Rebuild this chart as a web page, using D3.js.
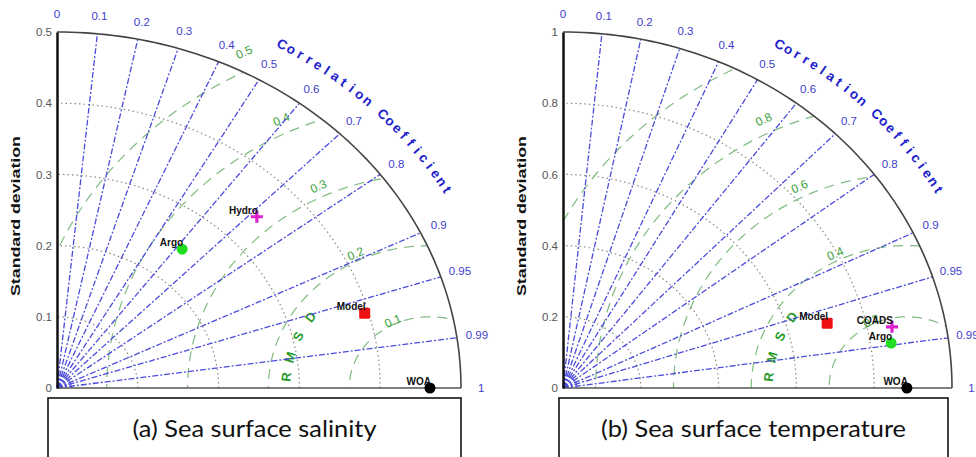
<!DOCTYPE html>
<html>
<head>
<meta charset="utf-8">
<script src="https://cdn.jsdelivr.net/npm/d3@7"></script>
<style>
  html, body { margin: 0; padding: 0; background: #fff; }
  svg { display: block; font-family: "Liberation Sans", Arial, sans-serif; }
  .caption { font-family: Lato, "Open Sans", sans-serif; font-size: 24px; fill: #111; }
</style>
</head>
<body>
<div id="chart"></div>
<script>
// correlation rays and their labels (shared by both diagrams)
const corrTicks = [0, 0.1, 0.2, 0.3, 0.4, 0.5, 0.6, 0.7, 0.8, 0.9, 0.95, 0.99, 1];

// (a) sea surface salinity
const salStdTicks = [0, 0.1, 0.2, 0.3, 0.4, 0.5];
const salRmsTicks = [0.1, 0.2, 0.3, 0.4, 0.5];
const salRmsLabels = [0.1, 0.2, 0.3, 0.4, 0.5];
const salNames = ["WOA", "Argo", "Hydro", "Model"];
const salStd = [0.4616, 0.249, 0.345, 0.395];
const salCorr = [1, 0.622, 0.717, 0.964];

// (b) sea surface temperature
const tmpStdTicks = [0, 0.2, 0.4, 0.6, 0.8, 1];
const tmpRmsTicks = [0.2, 0.4, 0.6, 0.8, 1.0];
const tmpRmsLabels = [0.2, 0.4, 0.6, 0.8];
const tmpNames = ["WOA", "Model", "COADS", "Argo"];
const tmpStd = [0.884, 0.703, 0.863, 0.853];
const tmpCorr = [1, 0.966, 0.980, 0.989];

const captions = ["(a) Sea surface salinity", "(b) Sea surface temperature"];

// marker look per source
const markerStyle = {
    WOA:   {shape: "circle", color: "#000"},
    Argo:  {shape: "circle", color: "#22dd22"},
    Hydro: {shape: "plus",   color: "#e020d0"},
    COADS: {shape: "plus",   color: "#e020d0"},
    Model: {shape: "square", color: "#ee1111"}
};

const W = 976, H = 457;
const svg = d3.select("#chart").append("svg")
    .attr("width", W).attr("height", H);

function drawTaylor(id, layout, stdTicks, rmsTicks, rmsLabels, names, stds, corrs, caption) {
    const rmax = d3.max(stdTicks);
    const x = d3.scaleLinear().domain([0, rmax]).range([layout.ox, layout.ox + layout.xr]);
    const y = d3.scaleLinear().domain([0, rmax]).range([layout.oy, layout.oy - layout.yr]);
    const P = (r, th) => [x(r * Math.cos(th)), y(r * Math.sin(th))];
    const refStd = stds[names.indexOf("WOA")];
    const g = svg.append("g").attr("class", "taylor-" + id);

    // clip for rmsd circles: the quarter region
    const quarter = d3.range(0, 91, 1).map(a => P(rmax, a * Math.PI / 180));
    quarter.push([x(0), y(0)]);
    g.append("clipPath").attr("id", "clip-" + id)
        .append("path").attr("d", d3.line()(quarter) + "Z");

    const arcLine = d3.line();
    const tangentDeg = phi => Math.atan2(layout.yr * Math.cos(phi), layout.xr * Math.sin(phi)) * 180 / Math.PI;

    // std dotted arcs
    stdTicks.filter(s => s > 0 && s < rmax).forEach(s => {
        const pts = d3.range(0, 91, 1).map(a => P(s, a * Math.PI / 180));
        g.append("path").attr("d", arcLine(pts))
            .attr("fill", "none").attr("stroke", "#8a8a80")
            .attr("stroke-width", 1.2).attr("stroke-dasharray", "1.5,3");
    });

    // rmsd dashed circles around reference
    const rmsG = g.append("g").attr("clip-path", `url(#clip-${id})`);
    rmsTicks.forEach(r => {
        const pts = d3.range(0, 181, 1).map(a => {
            const t = a * Math.PI / 180;
            return [x(refStd + r * Math.cos(t)), y(r * Math.sin(t))];
        });
        rmsG.append("path").attr("d", arcLine(pts))
            .attr("fill", "none").attr("stroke", "#82bb82")
            .attr("stroke-width", 1.2).attr("stroke-dasharray", "10,7");
    });
    rmsLabels.forEach(r => {
        const phi = 116 * Math.PI / 180;
        const lx = refStd + 1.05 * r * Math.cos(phi), ly = 1.05 * r * Math.sin(phi);
        g.append("text").attr("transform", `translate(${x(lx)},${y(ly)}) rotate(${tangentDeg(phi)})`)
            .attr("text-anchor", "middle").attr("dy", "0.35em")
            .attr("font-size", 12).attr("fill", "#3aa03a")
            .text(r);
    });
    // "RMSD" letters
    const rmsdAngles = [175, 166, 156, 146];
    "RMSD".split("").forEach((ch, i) => {
        const phi = rmsdAngles[i] * Math.PI / 180;
        const rr = 0.357 * rmax;
        const px = x(refStd + rr * Math.cos(phi)), py = y(rr * Math.sin(phi));
        g.append("text").attr("transform", `translate(${px},${py}) rotate(${tangentDeg(phi)})`)
            .attr("text-anchor", "middle").attr("dy", "0.35em")
            .attr("font-size", 13).attr("font-weight", "bold").attr("fill", "#2a9a2a")
            .text(ch);
    });

    // correlation rays
    corrTicks.filter(c => c > 0 && c < 1).forEach(c => {
        const th = Math.acos(c);
        const p0 = P(0, th), p1 = P(rmax, th);
        g.append("line").attr("x1", p0[0]).attr("y1", p0[1]).attr("x2", p1[0]).attr("y2", p1[1])
            .attr("stroke", "#4b4bdc").attr("stroke-width", 1.3)
            .attr("stroke-dasharray", "6,2,2,2");
    });
    // blur of rays at the origin
    [0.012, 0.024, 0.036].forEach(s => {
        const pts = d3.range(0, 91, 3).map(a => P(s * rmax, a * Math.PI / 180));
        g.append("path").attr("d", arcLine(pts)).attr("fill", "none")
            .attr("stroke", "#4b4bdc").attr("stroke-width", 1.2).attr("opacity", 0.7);
    });
    corrTicks.forEach(c => {
        const p = P(1.05 * rmax, Math.acos(c));
        g.append("text").attr("x", p[0]).attr("y", p[1])
            .attr("text-anchor", "middle").attr("dy", "0.35em")
            .attr("font-size", 11.5).attr("fill", "#4040cc")
            .text(c);
    });
    // "Correlation Coefficient" along arc
    const title = "Correlation Coefficient".split("");
    title.forEach((ch, i) => {
        const th = (60 - i * 30 / (title.length - 1)) * Math.PI / 180;
        const p = P(1.115 * rmax, th);
        g.append("text").attr("transform", `translate(${p[0]},${p[1]}) rotate(${tangentDeg(th)})`)
            .attr("text-anchor", "middle").attr("dy", "0.35em")
            .attr("font-size", 13.5).attr("font-weight", "bold").attr("fill", "#2020cc")
            .text(ch);
    });

    // outer arc
    g.append("path").attr("d", arcLine(quarter.slice(0, -1)))
        .attr("fill", "none").attr("stroke", "#444").attr("stroke-width", 1.6);
    // x axis line
    g.append("line").attr("x1", x(0)).attr("x2", x(rmax)).attr("y1", y(0)).attr("y2", y(0))
        .attr("stroke", "#555").attr("stroke-width", 1.5);
    // y axis
    const yAxis = g.append("g").attr("transform", `translate(${x(0)},0)`)
        .call(d3.axisLeft(y).tickValues(stdTicks).tickSize(0).tickPadding(5).tickFormat(d => String(d)));
    yAxis.select(".domain").attr("stroke", "#111").attr("stroke-width", 2.5);
    yAxis.selectAll("text").attr("font-size", 11.5).attr("fill", "#555")
        .attr("font-family", "'Liberation Sans', Arial, sans-serif");
    g.append("text")
        .attr("transform", `translate(${layout.ox - 37},${(y(0) + y(rmax)) / 2 + 6}) rotate(-90)`)
        .attr("text-anchor", "middle").attr("font-size", 12).attr("font-weight", "bold")
        .attr("textLength", 160).attr("lengthAdjust", "spacingAndGlyphs")
        .attr("fill", "#111").text("Standard deviation");

    // markers
    names.forEach((name, i) => {
        const th = Math.acos(corrs[i]);
        const [mx, my] = P(stds[i], th);
        const st = markerStyle[name];
        if (st.shape === "circle") {
            g.append("circle").attr("cx", mx).attr("cy", my).attr("r", 5.5).attr("fill", st.color);
        } else if (st.shape === "square") {
            g.append("rect").attr("x", mx - 5.5).attr("y", my - 5.5).attr("width", 11).attr("height", 11)
                .attr("rx", 1.5).attr("fill", st.color);
        } else {
            g.append("path").attr("d", `M${mx - 6},${my}H${mx + 6}M${mx},${my - 6}V${my + 6}`)
                .attr("stroke", st.color).attr("stroke-width", 3.2);
        }
        g.append("text").attr("x", mx + 1).attr("y", my - 3)
            .attr("text-anchor", "end").attr("font-size", 10).attr("font-weight", "bold")
            .attr("fill", "#111").text(name);
    });

    // caption box
    g.append("rect").attr("x", layout.bx).attr("y", 398).attr("width", layout.bw).attr("height", 80)
        .attr("fill", "none").attr("stroke", "#111").attr("stroke-width", 1.6);
    g.append("text").attr("class", "caption")
        .attr("x", layout.bx + layout.bw / 2).attr("y", 437)
        .attr("text-anchor", "middle")
        .attr("textLength", layout.tw).attr("lengthAdjust", "spacingAndGlyphs")
        .text(caption);
}

drawTaylor("a", {ox: 57, oy: 388, xr: 404, yr: 356, bx: 48, bw: 413, tw: 244},
    salStdTicks, salRmsTicks, salRmsLabels, salNames, salStd, salCorr, captions[0]);
drawTaylor("b", {ox: 563, oy: 388, xr: 389, yr: 356, bx: 559, bw: 389, tw: 305},
    tmpStdTicks, tmpRmsTicks, tmpRmsLabels, tmpNames, tmpStd, tmpCorr, captions[1]);
</script>
</body>
</html>
